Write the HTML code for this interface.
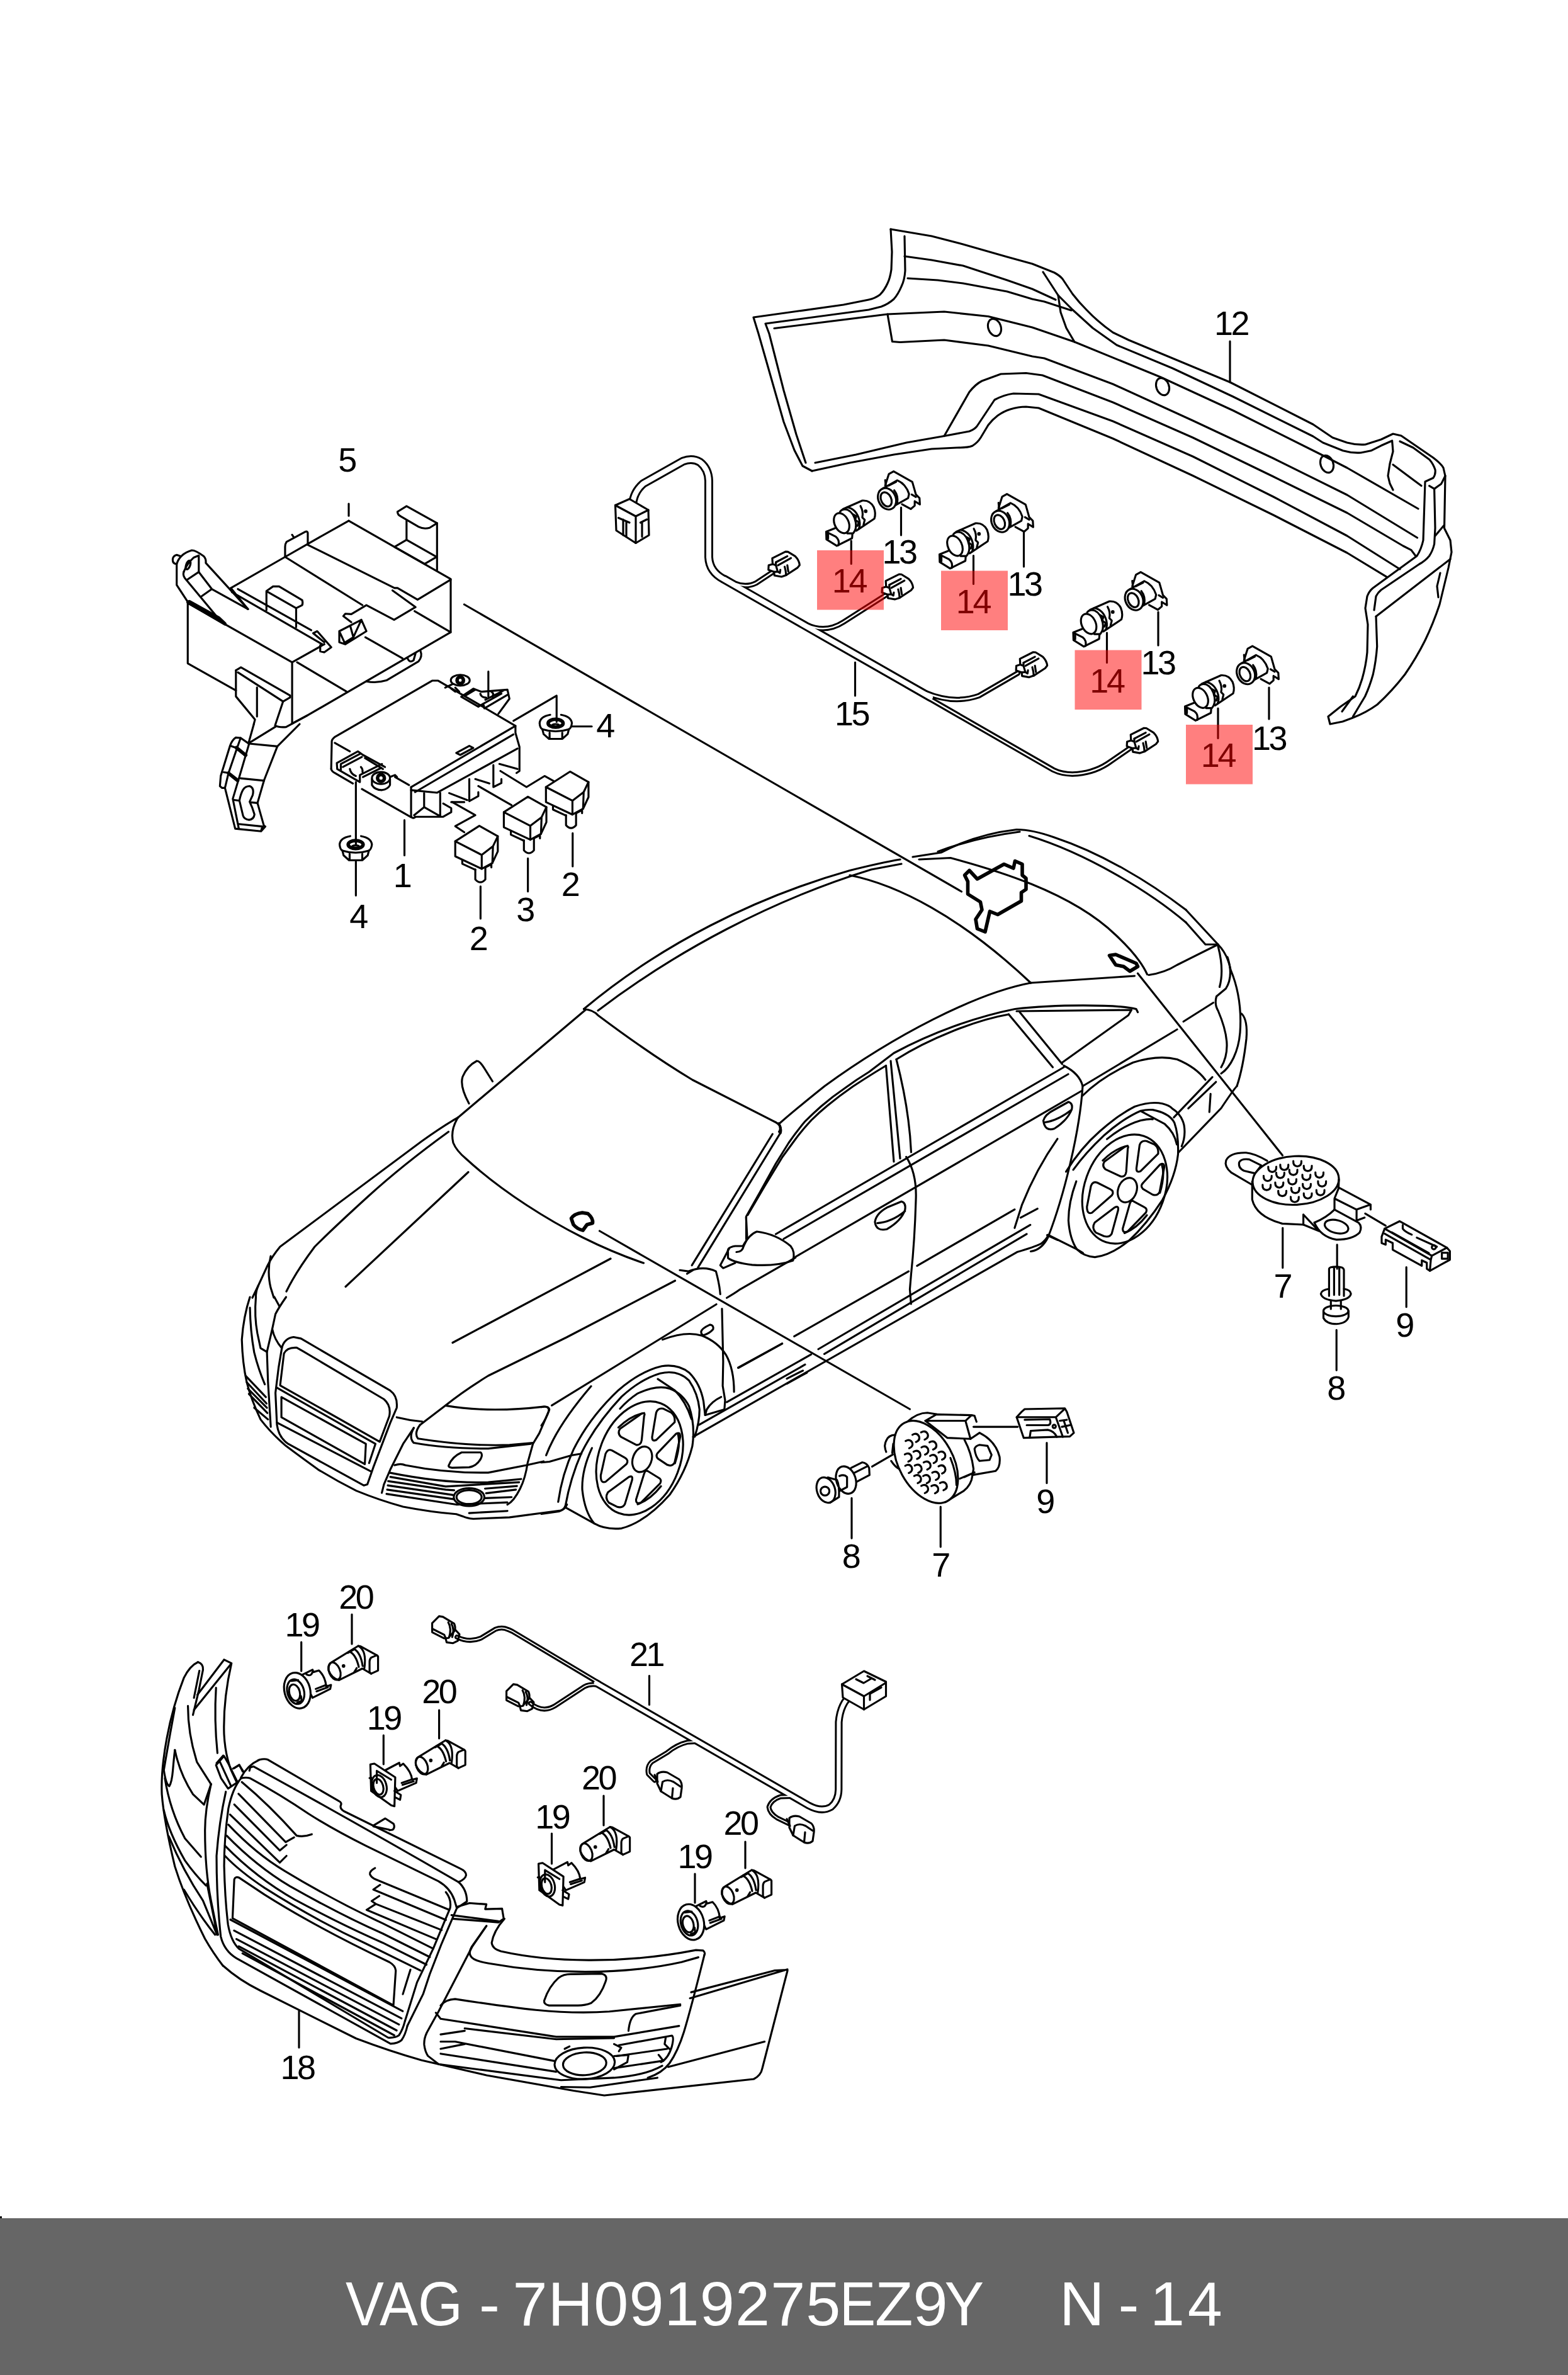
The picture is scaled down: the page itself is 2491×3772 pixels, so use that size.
<!DOCTYPE html>
<html><head><meta charset="utf-8"><title>VAG 7H0919275EZ9Y</title>
<style>
html,body{margin:0;padding:0;background:#fff}
body{width:2491px;height:3772px;overflow:hidden;position:relative}
svg{position:absolute;left:0;top:0;display:block}
.d path,.d line,.d ellipse,.d circle,.d polyline,.d polygon,.d rect{fill:none;stroke:#000;stroke-width:3.15;vector-effect:non-scaling-stroke;stroke-linecap:round;stroke-linejoin:round}
.d .w{fill:#fff}
.d .k{stroke-width:5.6}
.d .dot{fill:#000;stroke:none}
.d .t1{stroke:#000;stroke-width:14}
.d .t2{stroke:#fff;stroke-width:8}
.d .b1{stroke:#000;stroke-width:8.5}
.d .b2{stroke:#fff;stroke-width:2.5}
text{font-family:"Liberation Sans",sans-serif;fill:#000}
.n{font-size:54px;text-anchor:middle;letter-spacing:-3.5px}
.f{font-size:99px;fill:#fff}
</style></head><body>
<svg width="2491" height="3772" viewBox="0 0 2491 3772">
<rect x="0" y="0" width="2491" height="3772" fill="#fff"/>
<g class="d">
<!-- rear bumper 12 -->
<g id="rb">
<path d="M1415,364 L1480,375 L1530,388 L1600,408 L1640,419 L1675,433 Q1684,438 1688,443 L1704,467 Q1714,480 1726,492 Q1745,512 1768,528 L1793,540 L1954,607 L2086,674 L2117,695 L2140,703 Q2155,707 2169,706 L2194,698 L2213,689 L2226,692 L2277,727 Q2290,737 2293,743 L2296,756 L2294.5,839 Q2300,850 2304,858 L2306,877 L2301,902 L2287,960 Q2277,990 2264,1017 Q2250,1045 2232,1071 Q2212,1097 2188,1119 Q2170,1132 2149,1140 L2133,1146 L2113,1150 L2110,1138 L2130,1122 L2153,1106 Q2160,1092 2164,1078 Q2170,1057 2172,1036 L2173,992 L2169,966 L2172,947 Q2175,939 2181,934 L2207,915 L2251,883 Q2258,872 2261,858 L2264,765 L2277,759 Q2281,753 2280,746 Q2277,737 2271,730 L2245,711 L2224,701"/>
<path d="M1415,364 L1417,400 L1416,428 Q1414,442 1410,450 Q1405,461 1398,468 Q1390,474 1380,476 L1340,484 L1197,504 L1205,530 L1225,600 L1245,670 L1262,715 L1275,740 L1290,748"/>
<path d="M1437,375 L1438,430 Q1437,445 1432,455 Q1427,467 1420,475 Q1411,483 1400,487 L1380,492 L1216,514 L1222,530 L1245,620 L1265,690 L1280,735"/>
<!-- g bottom outer -->
<path d="M1290,748 L1350,735 L1420,722 L1480,713 L1520,711 Q1538,711 1545,708 Q1553,703 1558,695 L1570,675 Q1577,666 1585,660 Q1595,653 1605,650 Q1618,646 1630,646 L1650,648 L1768,696.5 L1895,755.5 L2023,818 L2140,878 L2203.6,916.7"/>
<!-- f -->
<path d="M1295,735 L1360,722 L1440,703 L1500,692.5 L1540,685 Q1548,682 1552,677 L1580,635 Q1595,627 1610,625 L1650,626 L1768,669 L1895,725 L2023,789 L2140,851 L2224,904"/>
<!-- e wheel arch -->
<path d="M1500,692.5 L1540,622.5 Q1550,610 1560,605 L1590,594 L1630,592.5 L1656,596 L1768,639 L1895,695 L2023,757 L2140,814.5 L2229,867 L2242,873.6 L2249,883"/>
<!-- d -->
<path d="M1410,499 L1417.5,542.5 L1430,543.5 L1500,540 L1570,549 L1640,566 L1659,569 L1768,610 L1895,668 L2023,728 L2140,786 L2251.5,854"/>
<!-- c -->
<path d="M1230,521.5 L1410,499 L1500,495 L1570,502.5 L1640,520 L1707,543 L1844,599 L1959,652 L2099,722 L2140,743 L2253,808"/>
<!-- b -->
<path d="M1657,432 L1681,469 L1704,492 L1736,521 L1774,548 L1863,585 L1959,630 L2086,693 L2101.6,703 L2133.5,715.8 Q2148,720 2162,719 L2178,715.8 L2194,707.8 L2211.6,700 L2213,717 L2208,736.5 L2205,755.7 L2208,768 L2213,778"/>
<path d="M1437,407 L1480,413 L1530,422 L1600,445 L1640,459 L1677,476"/>
<path d="M1442,442 L1490,445 L1530,450 L1600,463 L1640,475 L1659,479 L1702,493"/>
<path d="M1681,469 L1685,496 L1694,521 L1707,543"/>
<ellipse cx="1580" cy="520" rx="10" ry="14" transform="rotate(-20 1580 520)"/>
<ellipse cx="1847" cy="614" rx="10" ry="14" transform="rotate(-20 1847 614)"/>
<ellipse cx="2108" cy="737" rx="10" ry="14" transform="rotate(-20 2108 737)"/>
<!-- right end inner -->
<path d="M2270.6,771.6 L2278.6,776.4 L2280,838.6 L2278.6,864 Q2276,875 2270.6,883 Q2264,891 2254.7,896 L2194,937 Q2189,941 2186,947 L2183,969"/>
<path d="M2278.6,776.4 L2289.7,768.4 L2296,755.7"/>
<path d="M2280,851 L2294.5,833.8"/>
<path d="M2186,979 L2304,888"/>
<path d="M2186,979 L2187.7,1026.7 Q2186,1050 2181.3,1071 Q2176,1090 2168.6,1106 L2149.4,1138"/>
<path d="M2288,910 L2283,931 L2285,948.6"/>
<path d="M2132,1130 L2149.4,1106"/>
<path d="M2213,738 L2258,771.6"/>
</g>
<!-- sensors 13/14 (defined in zoom-tile coords origin 1280,730 scale 1/5.227) -->
<defs>
<g id="s1314">
<g transform="translate(1280,730) scale(0.19133)">
<!-- sensor 14 -->
<ellipse cx="298" cy="527" rx="58" ry="88" transform="rotate(-25 298 527)"/>
<path d="M285,432 Q305,405 345,415 Q400,440 415,520 Q425,575 395,610"/>
<path d="M310,410 L470,340 Q535,335 565,395 Q585,445 570,490 L420,590"/>
<path d="M345,395 Q420,410 445,500 Q455,545 440,575"/>
<path d="M395,455 L420,470 L410,500 L440,520 L430,550"/>
<path d="M455,385 Q480,430 470,480 L490,500 L480,540"/>
<circle class="dot" cx="498" cy="428" r="15"/>
<path d="M245,568 L170,598 L172,662 L258,715 L385,652 L388,612 L345,612"/>
<path d="M172,600 L250,640 Q282,665 272,710"/>
<path d="M186,612 L186,655"/>
<!-- sensor 13 holder -->
<ellipse cx="675" cy="325" rx="72" ry="92" transform="rotate(-25 675 325)"/>
<ellipse cx="668" cy="330" rx="42" ry="62" transform="rotate(-25 668 330)"/>
<path d="M640,240 L760,172 Q830,200 858,285 L850,320 L745,378"/>
<path d="M735,255 Q770,300 760,360"/>
<path d="M690,215 L750,185"/>
<path d="M660,215 L690,120 L730,97 L885,185 L915,290 L945,320 L948,372 L905,345 L905,382 L872,410 L800,370"/>
<path d="M660,170 L665,215"/>
<path d="M880,290 L915,310"/>
</g>
</g>
<g id="plug">
<g transform="translate(1560,1000) scale(0.19133)">
<path class="w" d="M315,242 L425,187 L445,188 L505,225 Q538,258 542,298 L525,320 L430,382 L392,395 L333,385 L330,355 L283,338 L285,300 L318,290 Z"/>
<path d="M345,275 L440,225 M362,300 L470,240"/>
<path d="M318,290 L345,300 L360,352 L378,364 L382,338 M345,300 L345,275"/>
<path d="M418,312 Q428,345 430,382 M440,300 L448,352 M330,355 L360,353"/>
</g>
</g>
</defs>
<use href="#s1314"/>
<use href="#s1314" transform="translate(180,36)"/>
<use href="#s1314" transform="translate(392.5,160)"/>
<use href="#s1314" transform="translate(570,277.5)"/>
<!-- leaders -->
<path d="M1431.5,806 V850 M1626.5,845 V900 M1840,972 V1025 M2016,1092 V1142"/>
<path d="M1352.3,859 V895.5 M1546.5,882.5 V927.5 M1758.5,1005 V1052.5 M1935,1125 V1172.5"/>
<path d="M1954,542 V607"/>
<!-- harness 15 -->
<g style="stroke-linecap:butt">
<path class="b1" d="M1152,917.5 L1168,926.6 Q1185,934 1201.6,925.8 L1236,903"/>
<path class="b1" d="M1255,977.2 L1281.6,992.3 Q1312,1006 1340,988 L1409,944"/>
<path class="b1" d="M1440,1083 L1470,1100 Q1515,1119 1555,1105 L1617,1069"/>
<path class="b1" d="M1440,1088.5 L1673.4,1222.8 Q1690,1231 1712,1229 Q1742,1226 1765,1209 L1797,1187"/>
<path class="t1" d="M1005,802 Q1006,782 1022,768 L1085,732.5 Q1100,727 1112,734 Q1126,745 1126,765 L1126,885 Q1127,908 1150,920 L1478,1107.4"/>
<path class="t2" d="M1005,802 Q1006,782 1022,768 L1085,732.5 Q1100,727 1112,734 Q1126,745 1126,765 L1126,885 Q1127,908 1150,920 L1478,1107.4"/>
<path class="b2" d="M1152,917.5 L1168,926.6 Q1185,934 1201.6,925.8 L1236,903"/>
<path class="b2" d="M1255,977.2 L1281.6,992.3 Q1312,1006 1340,988 L1409,944"/>
<path class="b2" d="M1440,1083 L1470,1100 Q1515,1119 1555,1105 L1617,1069"/>
<path class="b2" d="M1440,1088.5 L1673.4,1222.8 Q1690,1231 1712,1229 Q1742,1226 1765,1209 L1797,1187"/>
</g>
<use href="#plug"/>
<use href="#plug" transform="translate(-393.4,-159.6)"/>
<use href="#plug" transform="translate(-213.1,-123.7)"/>
<use href="#plug" transform="translate(176,120.5)"/>
<!-- connector block -->
<path class="w" d="M977.5,802.5 L1000,792.5 L1030,810 L1031,850 L1010,862.5 L979,842.5 Z"/>
<path d="M977.5,802.5 L1010,820 L1030,810 M1010,820 V862.5"/>
<path d="M982.5,822.5 L1000,830 M990,825 V850 M995,828.5 V852.5 M1017.5,830 L1027.5,825 M1020,830 V852.5"/>
<path d="M1358.5,1052 V1105"/>
<!-- long diagonal leader from bracket to car -->
<path d="M737.5,960 L1527.5,1416"/>
<!-- bracket 5 : tile origin (260,800) scale 1/3.136 -->
<g transform="translate(260,800) scale(0.31888)">
<path d="M922,0 V60"/>
<path d="M922,85 L1430,375 L1430,640 L715,1055 L640,1095"/>
<path d="M922,85 L718,200 L718,145 Q715,135 705,140 L650,170 L640,155 M650,170 L612,190 Q605,200 605,215 L605,265 L718,200"/>
<path d="M605,265 L335,420"/>
<path d="M718,205 L1150,420 L1165,420 L1265,478 L1430,378"/>
<path d="M1140,432 L1255,515 L1148,578 L1010,505 L935,550 L905,548 L895,560 L935,590"/>
<path d="M1250,535 L1430,640"/>
<path d="M605,265 L990,505"/>
<!-- right tab -->
<path d="M1165,40 L1210,12 L1362,97 L1362,330"/>
<path d="M1165,40 Q1165,55 1180,62 L1270,115 Q1295,128 1325,120 L1362,97"/>
<path d="M1210,85 L1210,180 L1150,215 L1300,300 L1355,268"/>
<path d="M1210,180 L1355,262"/>
<!-- clip -->
<path d="M875,635 L985,578 L1010,635 L905,700 L875,690 Z M875,635 L905,700 M930,610 L945,665 L985,578 M945,665 L905,690"/>
<path d="M1005,665 L1190,770"/>
<!-- left box -->
<path d="M120,495 L640,790 L640,1095 M120,495 L120,795 L360,930 M640,790 L800,700 M665,790 L910,935"/>
<path d="M335,420 L420,525 M370,425 L735,630 M340,440 L790,700"/>
<path d="M512,435 L545,412 L575,412 L690,480 Q695,495 690,505 L660,520 L660,615 M512,435 L512,530 M520,440 L660,520"/>
<path d="M745,645 L765,635 L835,715 L800,740 L780,735 L780,705 L800,700 M745,645 L800,690"/>
<!-- arm top-left -->
<path d="M65,300 Q45,300 45,280 Q45,260 65,255 L85,262"/>
<path d="M65,300 Q80,250 140,232 Q160,232 200,262 Q212,275 210,295 L420,525"/>
<path d="M65,300 L65,405 L122,492"/>
<path class="k" d="M122,490 L305,598 L275,570 L128,488"/>
<path d="M100,340 Q95,355 105,370 L275,575"/>
<path d="M100,340 Q115,300 150,268 L175,258 L175,340 L118,378"/>
<path d="M175,340 L240,425 L190,460 M240,425 L420,525"/>
<ellipse cx="122" cy="305" rx="10" ry="23" transform="rotate(20 122 305)"/>
<!-- lower hanging tab -->
<path d="M360,830 L385,815 L630,955 L630,965 L595,985 L555,1105 Q575,1115 610,1112 L715,1055"/>
<path d="M360,830 L360,960 L455,1075 L449,1098 M370,840 L595,985 M465,915 L465,1060"/>
<!-- clip under tray -->
<path d="M1010,885 Q1060,895 1110,880 L1270,785 Q1290,760 1280,735 M1215,770 Q1225,795 1245,780 L1255,745"/>
</g>
<!-- foot : tile origin (300,1150) scale 1/5.227 -->
<g transform="translate(300,1150) scale(0.19133)">
<path d="M540,0 L495,160 L720,22 M735,185 L920,0 M500,162 L735,185"/>
<path d="M495,160 L430,115 L390,112 Q360,130 342,180 L265,430 L258,515 L275,530 L300,530"/>
<path d="M430,115 L400,200 L330,405 L300,530 M345,180 L400,200 L470,265 M290,400 L330,405 L410,470"/>
<path class="k" d="M395,196 L472,258 M330,408 L405,468"/>
<path d="M500,165 L410,470 L365,620 L415,868 M735,185 L625,465 L570,655 L625,850"/>
<path d="M430,450 L625,470 M375,630 L415,635 M520,650 L570,655"/>
<path d="M505,515 Q470,515 450,545 Q430,580 420,635 L450,760 Q460,790 500,795 Q540,790 545,750 L525,690 L505,645 L530,590 Q545,530 505,515 Z"/>
<path d="M300,530 L385,868 L415,870 M385,868 L600,890 L635,850 L625,845 M415,830 L610,850 L600,888"/>
</g>
<!-- control unit 1 etc : tile origin (500,1030) scale 1/3.136 -->
<defs>
<g id="nut">
<g transform="translate(300,1150) scale(0.19133)">
<path d="M1340,930 Q1255,945 1252,1000 Q1255,1040 1275,1050 Q1385,1085 1495,1050 Q1515,1040 1520,1000 Q1515,945 1430,930"/>
<path d="M1275,1050 L1285,1090 L1330,1130 L1440,1130 L1485,1090 L1495,1050 M1335,1078 V1130 M1440,1078 V1130"/>
<ellipse class="k" cx="1385" cy="1000" rx="62" ry="33"/>
<ellipse cx="1385" cy="1018" rx="28" ry="11"/>
</g>
</g>
<g id="relay">
<g transform="translate(500,1030) scale(0.31888)">
<path class="w" d="M700,960 L820,883 L912,935 L912,1010 L885,1068 L832,1097 L700,1035 Z"/>
<path d="M700,960 L832,1028 L888,985 L912,935 M832,1028 V1097 M888,985 L885,1068"/>
<path d="M735,1052 V1072 L800,1102 M850,1090 L880,1075 V1090"/>
<path d="M800,1100 V1150 Q825,1178 850,1150 V1092"/>
</g>
</g>
</defs>
<g transform="translate(500,1030) scale(0.31888)">
<path d="M82,600 L85,460 Q90,445 110,435 L585,160 L615,160 L1000,385 L480,690"/>
<path d="M100,470 L175,512 M400,640 L470,680"/>
<path d="M82,600 Q85,612 100,620 L190,672 M235,700 L480,840"/>
<path d="M1000,385 L1000,420 L1020,490 L1020,610 L1005,620"/>
<path d="M990,428 L500,715"/>
<path d="M480,690 L480,835 Q485,850 500,840"/>
<path d="M480,705 L610,718 L1010,498"/>
<path d="M545,720 L545,790 L495,830 M545,790 L625,835 M625,718 V835 M500,838 L640,838 L680,815 L680,795 L640,772"/>
<path d="M770,650 V760 L815,735 V715 M890,580 V690 L930,670 V650"/>
<path d="M670,720 L760,755 M680,765 L745,765 M800,650 L870,672 M920,575 L1010,600"/>
<path d="M815,685 L980,780"/>
<path d="M925,610 L1055,690 L1145,635 L1190,660"/>
<path d="M685,765 L800,830 L700,885 L745,915"/>
<path d="M705,520 L770,485 L790,495 L725,530 Z"/>
<!-- left ear with screw -->
<path d="M110,570 L215,512 L240,530 L350,590 M110,570 L112,600 L225,665 L225,630 L335,575 M130,575 L225,525 M130,575 V605 M240,640 L330,595"/>
<path d="M140,590 L235,540 M250,545 L340,600"/>
<path d="M175,600 Q180,625 205,635 M230,590 Q240,600 238,615"/>
<ellipse cx="330" cy="645" rx="45" ry="30"/>
<circle class="k" cx="330" cy="645" r="17"/>
<path d="M285,650 V680 Q300,705 335,705 Q365,700 375,680 V650 M375,640 L400,630 L410,640"/>
<!-- top ear with screw -->
<ellipse cx="725" cy="158" rx="47" ry="27"/>
<circle class="k" cx="725" cy="158" r="16"/>
<path d="M650,195 L685,178 M680,200 L700,215 M700,195 L720,215"/>
<path d="M730,240 L790,200 L830,215 L960,205 L970,250 L915,325 M730,240 L815,290 L840,275 L930,225 M840,275 L845,298 L965,228 M750,235 L800,205 M850,255 L940,210"/>
<path d="M825,225 Q830,245 855,245 M880,215 Q895,225 885,240"/>
<path d="M865,115 V240"/>
<!-- leaders for nuts -->
<path d="M990,360 L1205,235 V365"/>
<path d="M1280,388 H1380"/>
<path d="M205,665 V975 M205,1060 V1230"/>
<path d="M447,855 V1030 M826,1185 V1345 M1062,1045 V1210 M1285,920 V1085"/>
</g>
<use href="#relay"/>
<use href="#relay" transform="translate(77.2,-46.2)"/>
<use href="#relay" transform="translate(144.1,-86.1)"/>
<use href="#nut"/>
<use href="#nut" transform="translate(317.7,-192.7)"/>
<defs><g id="wheelQ">
<ellipse cx="612" cy="1003" rx="253" ry="366" transform="rotate(21 612 1003)"/>
<path d="M480,812 Q560,735 640,722 M850,850 Q870,920 832,1035 M745,1178 Q680,1260 600,1290"/>
<!-- spokes -->
<path d="M640,740 Q650,718 625,725 L490,820 Q472,848 495,870 L590,920 Q620,925 625,890 Z"/>
<path d="M715,720 Q725,688 760,695 L810,720 Q835,740 830,780 L715,890 Q688,902 690,870 Z"/>
<path d="M840,850 Q867,838 865,870 L830,1030 Q815,1057 785,1045 L725,1005 Q708,985 730,965 Z"/>
<path d="M665,1085 Q648,1073 640,1100 L590,1260 Q588,1292 620,1280 L740,1160 Q752,1135 730,1125 Z"/>
<path d="M545,1120 Q572,1108 565,1140 L520,1290 Q505,1317 470,1305 L420,1280 Q393,1250 415,1215 Z"/>
<path d="M440,955 Q413,943 400,975 L370,1110 Q368,1162 400,1150 L530,1040 Q547,1015 520,1000 Z"/>
<ellipse cx="628" cy="1010" rx="58" ry="82" transform="rotate(21 628 1010)"/>
</g></defs>
<!-- CAR front end : tile R origin (370,2060) scale 1/2.958 -->
<g transform="translate(370,2060) scale(0.33801)">
<path d="M80,0 Q50,90 42,200 Q45,310 65,400 Q85,480 130,575 Q180,640 250,700 Q330,760 400,810 Q490,865 580,910 Q690,955 800,985 Q930,1010 1050,1020 L1080,1030 Q1100,1040 1130,1042 L1300,1035 L1540,1003 Q1560,998 1570,975"/>
<path d="M108,0 Q100,90 115,170 L130,240 L160,258"/>
<path d="M80,50 Q82,160 100,260 Q120,340 150,410"/>
<path d="M250,0 Q215,50 200,80 L185,150 L160,258 L165,400 L178,610"/>
<path d="M195,0 L218,42"/>
<path d="M185,150 Q195,200 230,240"/>
<path d="M60,370 L155,470 M65,400 L158,500 M70,430 L160,520 M75,455 L162,545 M100,520 L165,575"/>
<path d="M230,240 Q240,195 285,188 L320,195 L740,440 Q775,465 770,520 L740,590 L660,800 L632,880 L615,885 L260,690 Q215,660 207,600 L200,450 L215,330 Z"/>
<path d="M240,265 Q255,235 300,238 L330,255 L710,480 Q745,510 735,560 L690,680 L222,415 Z"/>
<path d="M205,425 L670,690 L640,780 M207,590 L650,820"/>
<path d="M228,470 L625,690 L620,785 L228,565 Z"/>
<path d="M770,565 Q830,580 890,585"/>
<path d="M1000,510 Q1200,545 1460,515 Q1487,513 1485,535 L1440,640 L1410,690 L1385,780 Q1375,850 1350,900 Q1320,960 1290,975"/>
<path d="M880,600 Q850,640 870,665 Q1100,702 1300,695 L1410,685"/>
<path d="M850,615 Q825,660 850,685 Q1000,712 1200,712 L1400,690"/>
<path d="M850,615 L800,690 L740,810 L710,880 L700,920"/>
<path d="M760,790 Q790,780 810,790 Q1000,828 1200,825 L1380,790 L1460,772"/>
<path d="M1015,790 Q1030,750 1075,730 L1165,730 Q1175,740 1165,760 Q1145,795 1110,800 L1030,802 Q1010,800 1015,790 Z"/>
<path d="M735,825 Q1000,878 1200,870 L1355,855"/>
<path d="M740,845 L1000,890 L1345,870 M730,865 L1000,905 L1040,908 M1185,900 L1335,888 M728,885 L1035,930 M1190,922 L1330,905 M725,905 L1040,950 M1185,945 L1310,940 M722,925 L1050,975 L1290,965"/>
<ellipse cx="1110" cy="940" rx="72" ry="42"/>
<ellipse cx="1110" cy="940" rx="59" ry="33"/>
<path d="M1110,1015 L1290,1005"/>
</g>
<!-- front wheel : tile Q origin (860,2060) scale 1/3.92 -->
<g transform="translate(860,2060) scale(0.2551)">
<use href="#wheelQ"/>
<path d="M315,940 Q250,1080 255,1200 Q270,1340 330,1410 Q400,1450 500,1440 Q650,1400 800,1230 Q900,1090 940,930 Q960,800 920,680 Q880,600 800,570 Q720,545 600,600 Q540,640 490,695"/>
<path d="M105,1275 Q130,1100 200,950 Q300,750 480,580 Q620,460 750,430 Q850,415 920,470 Q990,540 1010,650 L1020,735"/>
<path d="M150,1300 Q180,1130 250,970 Q340,790 500,620 Q620,510 740,475 Q850,450 920,520 Q975,600 985,700 Q985,780 955,870"/>
<path d="M725,510 L830,580 Q900,650 935,760"/>
<path d="M0,1350 L110,1335 Q140,1325 150,1300 M150,1310 L330,1410"/>
<path d="M0,1030 L50,1025 L190,985 L250,975"/>
<path d="M30,985 Q100,800 310,555"/>
<path d="M65,675 L1090,45"/>
<path d="M755,265 Q900,210 1000,240 Q1100,280 1150,360 Q1200,450 1200,590"/>
<path d="M995,215 Q1000,195 1050,172 Q1075,175 1070,200 Q1050,225 1010,238 Q995,235 995,215 Z"/>
<path d="M1020,735 L1140,700 M1020,735 L1030,700 Q1060,650 1120,622"/>
<path d="M1225,440 L1500,290"/>
<path d="M0,685 Q45,675 50,700 Q30,760 0,800"/>
</g>
<!-- hood etc : tile D origin (360,1700) scale .5 -->
<g transform="translate(360,1700) scale(0.5)">
<path d="M735,150 Q690,175 620,225 L170,560 Q145,590 130,620 L100,685 L82,722"/>
<path d="M100,685 Q92,705 93,722"/>
<path d="M705,195 Q560,300 450,400 Q340,500 280,560 Q220,640 190,702"/>
<path d="M140,590 Q128,640 140,690 L150,722"/>
<path d="M768,323 L378,687"/>
<path d="M1220,598 L718,865"/>
</g>
<path d="M1072.5,2034 L900,2124 L775.6,2185 Q735,2210 708,2232 L667.4,2263"/>
<!-- windshield etc : tile H origin (600,1300) scale .5 -->
<g transform="translate(600,1300) scale(0.5)">
<path d="M255,950 L660,608"/>
<path d="M655,605 Q685,608 700,625 C800,700 900,770 1000,830 L1265,965 Q1287,977 1280,1000"/>
<path d="M255,950 Q230,990 240,1030 Q250,1055 280,1080 C400,1190 550,1280 650,1330 Q750,1380 845,1412"/>
<path class="k" d="M615,1270 Q625,1255 650,1252 L668,1255 Q685,1270 683,1285 L665,1290 L652,1308 Q635,1305 622,1290 Z"/>
<path d="M290,905 Q260,850 270,820 Q285,785 315,770 Q325,770 340,795 L365,835"/>
</g>
<!-- leader hood marker -> buzzer -->
<path d="M952.5,1955 L1445.4,2238"/>
<!-- roof/windows : tile E origin (1100,1300) scale .5 -->
<g transform="translate(1100,1300) scale(0.5)">
<path d="M500,180 C650,210 850,310 1075,522"/>
<path d="M700,122 L790,108 Q900,50 1030,35 Q1080,35 1150,60 C1300,110 1450,200 1568,290"/>
<path d="M1070,55 C1250,110 1450,230 1568,330"/>
<path d="M720,130 L820,125 C950,160 1200,230 1345,370 Q1420,440 1445,495"/>
<path d="M780,105 Q900,60 1040,42"/>
<path class="k" d="M865,180 L880,165 L905,192 L990,145 L1020,158 L1025,135 L1048,145 L1048,180 L1060,190 L1060,225 L1045,235 L1045,262 L970,305 L945,295 L930,360 L905,350 L900,320 L920,290 L915,265 L875,240 L875,200 Z"/>
<path class="k" d="M1325,435 L1345,432 L1410,460 L1415,470 L1390,485 L1370,470 L1345,465 Z"/>
<path d="M1075,522 L1405,500"/>
<path d="M1075,522 C900,555 640,690 420,850 Q320,930 275,970 Q285,980 275,995"/>
<path d="M1415,615 L1410,605 C1350,590 1150,590 1025,605 C900,630 760,680 640,745 L561,805 Q520,830 485,856 Q445,883 408,915 Q380,940 357,963 Q330,995 306,1030 L265,1096 L214,1188 L171,1264 L171,1336"/>
<path d="M1005,622 C900,640 750,700 648,765 M615,785 L582,805 Q545,828 510,851 Q468,880 429,912 Q402,934 378,958 Q350,988 327,1019 L286,1075 L230,1167 L176,1259"/>
<path d="M615,785 L640,1090 M630,770 L660,1080 M648,765 C670,850 690,950 695,1060"/>
<path d="M1005,622 L1145,790 M1040,615 L1175,780"/>
<path d="M1030,612 L1395,608 L1385,625 L1175,775"/>
<path d="M1180,785 Q1230,810 1240,850 C1230,1000 1180,1200 1130,1330 Q1110,1370 1075,1375"/>
<path d="M1115,960 Q1120,940 1150,925 L1195,900 Q1210,905 1205,925 Q1190,960 1150,985 Q1120,995 1115,960 Z M1120,965 Q1160,960 1205,925"/>
</g>
<!-- belt lines / crease (src coords) -->
<path d="M1232.5,1960 L1690,1695"/>
<path d="M1245,1967.5 L1697,1706"/>
<path d="M1264,1996 L1717.5,1733"/>
<path d="M927.5,1602.5 C1050,1500 1200,1425 1350,1382.5 Q1400,1370 1430,1365"/>
<path d="M950,1605 C1075,1510 1225,1430 1384,1381 L1432,1372"/>
<!-- side : tile G origin (1080,1780) scale 1/2.6133 -->
<g transform="translate(1080,1780) scale(0.38265)">
<path class="w" d="M200,545 Q195,525 230,520 L262,520 Q290,470 320,460 Q400,470 460,520 Q480,545 470,580 Q400,605 300,598 Q230,590 200,570 Z"/>
<path d="M235,545 Q260,545 265,520 M205,530 L168,600 L180,612 L230,590"/>
<path d="M385,55 L50,600 M410,10 Q420,30 415,55 L75,610"/>
<path d="M275,400 L280,490 L265,520"/>
<path d="M0,620 L35,625 Q100,600 150,625 Q165,680 168,720 M30,635 L55,620"/>
<path d="M175,780 L180,1000 L178,1100 L188,1160 L185,1200"/>
<path d="M195,735 Q230,715 250,700 L480,568"/>
<path d="M245,1025 L425,925 M475,895 L950,625 M985,602 L1390,368 M1415,402 L1485,365"/>
<path d="M195,1168 L545,970 M575,948 L1455,432"/>
<path d="M80,1262 L520,1012 M600,968 L1440,470"/>
<path d="M55,1312 L1400,545 Q1470,525 1500,510 Q1520,495 1530,475"/>
<path d="M940,150 Q985,220 980,330 Q975,500 960,640 L955,700 L960,760"/>
<path d="M810,420 Q815,385 860,360 L920,335 Q940,340 935,370 Q920,415 860,450 Q815,460 810,420 Z M820,425 Q880,420 935,375"/>
<path d="M1568,75 Q1480,200 1420,350 L1390,445"/>
<path d="M1525,475 L1568,495"/>
</g>
<!-- rear : tile I origin (1500,1280) scale .5 -->
<g transform="translate(1500,1280) scale(0.5)">
<path d="M768,330 L870,440 Q900,470 910,520 C935,580 945,650 940,720 C935,780 910,830 880,850"/>
<path d="M768,370 L830,440 L870,440"/>
<path d="M870,445 Q890,520 875,575"/>
<path d="M900,480 Q920,540 895,580 L865,605 Q858,630 870,650 C900,720 910,780 880,830"/>
<path d="M945,660 Q965,680 960,740 Q950,830 930,890"/>
<path d="M855,625 L760,685"/>
<path d="M650,537 Q700,530 740,505 L870,440"/>
<path d="M615,532 L1075,1110"/>
<path d="M440,890 L740,710"/>
<path d="M440,920 Q500,860 600,815 Q680,790 740,805 Q800,830 830,870"/>
<path d="M745,1100 L880,960 Q920,900 930,890"/>
</g>
<!-- rear wheel : tile W origin (1640,1680) scale 1/5.227 -->
<g transform="translate(1640,1680) scale(0.19133)">
<path d="M365,1025 Q300,1200 300,1350 Q310,1500 370,1590 Q430,1650 520,1655 Q650,1640 800,1520 Q950,1380 1080,1180 Q1190,980 1210,800 Q1215,640 1180,540 Q1140,460 1000,432 Q950,428 900,440 Q760,500 600,640 Q440,790 340,930"/>
<path d="M620,675 Q760,560 900,520 Q970,505 1000,510"/>
<path d="M905,445 L1100,550 Q1180,620 1200,720"/>
<path d="M280,945 Q400,750 560,610 Q720,470 850,405 Q980,360 1080,380 Q1140,395 1160,420 Q1240,470 1260,560 Q1275,650 1240,735"/>
<path d="M1175,495 L1495,160 M1295,420 L1525,200 M1480,300 L1470,450"/>
<path d="M130,1470 L370,1590 L420,1620"/>
</g>
<use href="#wheelQ" transform="translate(1786.9,1888.5) scale(0.2551) scale(0.99,0.955) rotate(-2) translate(-612,-1003)"/>
<!-- buzzer right : tile J origin (1900,1760) scale 1/3.136 -->
<defs>
<path id="cu" d="M-20,-8 Q-22,16 0,18 Q22,16 20,-8"/>
</defs>
<g transform="translate(1900,1760) scale(0.31888)">
<!-- left ear -->
<path d="M285,385 L175,320 Q140,290 150,260 Q170,220 250,222 Q290,225 355,262"/>
<path d="M215,270 Q225,250 265,255 L325,285 L295,325 L240,312 Q210,300 215,270 Z"/>
<ellipse class="w" cx="497" cy="360" rx="215" ry="121" transform="rotate(-3 497 360)"/>
<path d="M280,365 L280,455 Q300,540 430,575 L535,580"/>
<path d="M712,355 L710,400 M690,505 Q650,545 590,570"/>
<path d="M535,530 L535,580 L612,612 Z"/>
<path d="M590,570 Q620,640 700,655 Q780,655 815,620 Q830,590 810,570 L690,505"/>
<ellipse cx="700" cy="590" rx="60" ry="32" transform="rotate(14 700 590)"/>
<path d="M710,395 L870,480 L870,505 M690,450 L690,505 M690,450 L800,505 L800,560 M800,505 L870,480 M800,560 L840,545 M710,400 L690,450"/>
<path d="M843,525 L945,585"/>
<g>
<use href="#cu" x="380" y="300"/><use href="#cu" x="440" y="290"/><use href="#cu" x="505" y="272"/><use href="#cu" x="557" y="295"/>
<use href="#cu" x="357" y="345"/><use href="#cu" x="420" y="330"/><use href="#cu" x="485" y="315"/><use href="#cu" x="550" y="340"/><use href="#cu" x="615" y="328"/>
<use href="#cu" x="352" y="390"/><use href="#cu" x="415" y="378"/><use href="#cu" x="480" y="362"/><use href="#cu" x="552" y="385"/><use href="#cu" x="628" y="372"/>
<use href="#cu" x="430" y="420"/><use href="#cu" x="495" y="405"/><use href="#cu" x="557" y="432"/><use href="#cu" x="620" y="416"/>
<use href="#cu" x="492" y="450"/>
</g>
<path d="M432,597 V795 M703,680 V800 M700,1105 V1305 M1048,792 V990"/>
<!-- screw 8 -->
<path d="M663,800 Q665,790 700,790 Q735,790 737,805 L737,935 M663,800 L663,935 M688,797 V930 M714,797 V930"/>
<path d="M663,900 Q625,905 622,925 Q630,955 697,960 Q765,955 772,925 Q770,905 737,900"/>
<path d="M672,962 V1000 M722,962 V1000"/>
<ellipse cx="697" cy="1010" rx="62" ry="27"/>
<path d="M635,1010 V1045 Q650,1075 700,1075 Q750,1072 760,1040 V1010"/>
<!-- clip 9 -->
<path d="M940,600 L1015,563 L1250,695 L1265,712 L1265,755 L1165,810 L1150,800 L1150,770 L1125,758 L1125,785 L980,705 L980,672 L945,655 L945,680 L925,672 L925,640 Z"/>
<path d="M940,600 L1175,735 L1250,695 M940,625 L1170,755 L1165,810 M1175,735 L1170,755 M975,618 L1160,722"/>
<path d="M1030,582 L1030,600 Q1040,615 1075,630 M1100,645 L1200,690"/>
<circle cx="1185" cy="693" r="10"/>
<path d="M1225,720 L1255,720 L1255,750 L1225,750 Z"/>
</g>
<!-- buzzer bottom : tile K origin (1250,2180) scale 1/3.136 -->
<g transform="translate(1250,2180) scale(0.31888)">
<path d="M0,30 L80,-10 M0,55 L100,0"/>
<path d="M600,245 Q650,200 700,200 L745,207"/>
<path d="M790,645 L880,590 Q920,560 925,510 L930,480 Q920,400 885,335"/>
<ellipse class="w" cx="693" cy="445" rx="222" ry="135" transform="rotate(61 693 445)"/>
<path d="M815,425 Q845,500 845,560"/>
<path class="w" d="M690,240 L745,208 L920,212 L890,240 L915,330 L800,325 Z"/>
<path d="M690,240 L890,240 M920,212 L935,215 L945,245 M915,330 L960,300"/>
<path d="M960,300 Q1040,340 1060,420 Q1065,470 1040,490 L925,510"/>
<path d="M935,380 Q940,365 960,360 L1000,365 L1020,410 L1010,435 L960,440 Q940,420 935,380 Z"/>
<path d="M862,528 L935,497 L885,520"/>
<path d="M540,310 Q495,310 488,365 Q490,385 495,395 M530,355 L525,400 M520,440 Q540,470 560,480"/>
<path d="M425,468 L528,408"/>
<g transform="translate(693,445) rotate(244) translate(-497,-365)">
<use href="#cu" x="380" y="300"/><use href="#cu" x="440" y="290"/><use href="#cu" x="505" y="272"/><use href="#cu" x="557" y="295"/>
<use href="#cu" x="357" y="345"/><use href="#cu" x="420" y="330"/><use href="#cu" x="485" y="315"/><use href="#cu" x="550" y="340"/><use href="#cu" x="615" y="328"/>
<use href="#cu" x="352" y="390"/><use href="#cu" x="415" y="378"/><use href="#cu" x="480" y="362"/><use href="#cu" x="552" y="385"/><use href="#cu" x="628" y="372"/>
<use href="#cu" x="430" y="420"/><use href="#cu" x="495" y="405"/><use href="#cu" x="557" y="432"/><use href="#cu" x="620" y="416"/>
<use href="#cu" x="492" y="450"/>
</g>
<!-- screw 8 -->
<path d="M320,475 L375,447 Q400,450 410,475 L412,510 L345,545 M335,500 L400,467"/>
<ellipse class="w" cx="295" cy="535" rx="48" ry="70" transform="rotate(-18 295 535)"/>
<path d="M262,515 Q285,505 300,520 L300,570 L262,590"/>
<ellipse class="w" cx="195" cy="585" rx="45" ry="65" transform="rotate(-18 195 585)"/>
<path d="M205,522 L250,535 Q262,560 260,620 L215,648"/>
<circle cx="190" cy="590" r="22"/>
<path d="M323,625 V825 M766,668 V868 M1295,350 V550 M930,270 H1150"/>
<!-- clip 9 -->
<path d="M1145,222 L1170,195 L1185,182 L1385,178 L1395,195 L1430,300 L1410,318 L1180,325 Z"/>
<path d="M1145,222 L1340,222 L1385,180 M1340,222 L1375,320"/>
<path d="M1185,235 L1310,232 Q1320,260 1300,262 L1195,262 M1215,290 L1300,285 Q1330,290 1345,320 M1215,290 L1210,322"/>
<path d="M1360,240 L1395,235 M1370,270 L1410,262 M1380,240 L1400,300"/>
<circle cx="1332" cy="268" r="8"/>
</g>
<!-- front bumper 18: left horn : tile U origin (230,2620) scale 1/3.136 -->
<g transform="translate(230,2620) scale(0.31888)">
<path d="M265,62 Q225,80 195,140 Q140,280 110,440 Q80,600 85,720 Q95,850 150,1080 Q200,1240 300,1440 Q340,1510 390,1575"/>
<path d="M265,62 Q292,70 290,100 L270,200 L240,325 M272,105 L245,240"/>
<path d="M395,50 L432,68 L245,300 M395,50 L262,225 M432,68 Q390,250 395,420 Q400,520 430,600 L460,665"/>
<path d="M355,190 Q345,350 362,515"/>
<path d="M150,290 Q120,450 95,600 Q105,670 122,680 Q135,660 140,600 Q145,540 150,500"/>
<path d="M215,280 Q215,420 260,560 L330,670"/>
<path d="M150,500 Q175,620 240,720 L295,772 L330,670"/>
<path d="M100,640 Q125,800 200,940 L280,1032"/>
<path d="M95,800 Q120,910 200,1050 Q250,1120 305,1175"/>
<path d="M120,930 Q190,1100 290,1250 L360,1420 L345,1340 L310,1165"/>
<path d="M195,1195 Q270,1320 350,1420"/>
<path d="M330,670 Q300,800 300,900 Q300,1100 330,1250 Q350,1350 365,1420"/>
<path d="M355,575 L395,530 L415,565 L462,660 L415,692 L380,640 Z M375,560 L430,680 M440,592 L470,575 L490,605"/>
</g>
<!-- grille : tile V origin (340,2760) scale 1/3.733 -->
<g transform="translate(340,2760) scale(0.26786)">
<path d="M70,320 Q30,500 15,700 Q15,950 40,1178 Q60,1262 133,1307 L1047,1814 Q1090,1812 1112,1793 Q1135,1760 1147,1707"/>
<path d="M160,240 Q110,300 85,420 Q60,600 60,760 Q65,960 83,1107 Q100,1205 147,1250 L1033,1778 Q1075,1780 1097,1764 Q1120,1730 1133,1678"/>
<path d="M160,235 Q200,160 270,130 Q300,122 320,130 L740,375 Q760,385 752,400 Q745,420 770,435 L1460,775 Q1495,790 1495,815 Q1490,840 1450,855 Q1500,900 1500,970 L1440,1010"/>
<path d="M945,520 L1015,478 L1065,510 Q1075,530 1060,545 L1040,548 M945,525 L1040,545"/>
<path d="M210,195 L215,175 L235,170 Q800,480 1450,855"/>
<path d="M160,240 Q190,232 215,240 Q400,340 560,450 Q700,540 900,640 L1330,850 Q1400,890 1425,960 L1440,1010"/>
<path d="M1375,915 Q1410,960 1400,1010 L1300,1250 L1204,1450 L1133,1678"/>
<path d="M1440,1010 L1350,1220 L1280,1400 L1240,1520 L1147,1707"/>
<path d="M1165,1375 L1120,1520"/>
<!-- left slats -->
<path d="M165,262 Q330,400 490,580 Q530,590 580,572"/>
<path d="M145,332 L425,618 L475,590 M120,395 L390,668 L430,635 M95,455 L390,740 L430,700"/>
<path d="M85,515 Q250,690 420,790 Q700,960 1000,1100 L1300,1250"/>
<path d="M75,580 Q250,760 450,880 Q750,1050 1000,1160 L1280,1300"/>
<path d="M65,640 Q250,830 480,960 Q760,1110 1000,1215 L1260,1345"/>
<path d="M65,700 Q150,790 300,890 Q600,1080 900,1220 L1225,1380"/>
<!-- right slats -->
<path d="M955,772 Q920,790 925,810 Q935,830 960,840 L1395,1020"/>
<path d="M985,872 L945,900 L1375,1080"/>
<path d="M980,938 L935,968 L960,985 L1350,1140 M960,985 L905,1020 L1320,1195"/>
<!-- plate -->
<path d="M110,1070 L120,840 Q125,820 150,830 L300,930 Q600,1120 1040,1330 Q1075,1350 1078,1380 L1064,1586 L110,1070"/>
<!-- lower bars -->
<path d="M97,1078 L1119,1621 M119,1143 L1112,1664 M133,1193 L1097,1700 M147,1236 L1083,1735 M169,1278 L1069,1764"/>
<path d="M15,150 L55,105 M120,180 L150,160 L170,200"/>
</g>
<!-- bottom contour (src) -->
<path d="M354.4,3122 Q380,3145 413.6,3161.5 L475.8,3192.6 L565.7,3237.5 Q620,3258 669.4,3272 L773,3296 L911.3,3320.5 L960,3328 L1197.4,3302 Q1209,3296 1211,3285 L1251,3130"/>
<path d="M475,3194 V3252"/>
<!-- right lower : tile O origin (700,2990) scale 1/2.6133 -->
<g transform="translate(700,2990) scale(0.38265)">
<path d="M265,150 Q220,200 212,250 Q215,275 250,285 C450,330 750,340 1060,280 L1090,282 Q1100,290 1095,300"/>
<path d="M190,180 L130,265 Q115,290 125,305 Q135,325 200,335 C450,380 750,385 1000,330 L1070,310"/>
<path d="M1095,300 C1070,400 1040,520 1010,620 Q985,700 950,750 Q920,790 860,810"/>
<path d="M70,100 L120,85 L190,90 L185,110 L255,108 L262,150 L240,165 L50,150 M45,135 L240,160"/>
<path d="M190,180 L132,264 L-8,534 Q-45,600 -58,624 Q-70,650 -68,674 Q-65,700 -53,719 L-8,754"/>
<path d="M430,490 Q450,430 490,395 Q510,380 540,380 L670,378 Q695,385 685,410 Q665,470 625,500 Q600,510 570,510 L450,510 Q428,505 430,490 Z"/>
<path d="M0,510 Q20,485 60,483 C300,520 500,550 700,535 L995,505"/>
<path d="M-20,540 L0,565 L480,640 L720,640 L990,595"/>
<path d="M780,615 Q785,560 810,545 L995,510"/>
<path d="M100,605 L480,650 L720,645 M0,630 L100,615 M0,660 L60,660 L470,740 M0,690 L100,670 M0,710 L480,785 M0,755 L500,820 L720,810 Q850,800 920,760"/>
<path d="M740,675 L960,635 Q970,640 960,680 Q945,730 915,745 M730,720 L940,690 M720,770 L920,740 M935,640 L930,670 L950,690 M905,715 L925,740"/>
<ellipse cx="598" cy="750" rx="125" ry="65" transform="rotate(-3 598 750)"/>
<ellipse cx="598" cy="752" rx="90" ry="47" transform="rotate(-3 598 752)"/>
<path d="M515,690 L535,680 M720,670 L750,685 L740,700 M720,720 L780,715 L775,745 L720,775"/>
<path d="M500,848 L620,850 L900,810"/>
<path d="M1035,480 L1440,360 M1040,455 L1385,365 L1440,362 M945,765 L1345,660"/>
</g>
<!-- sensors 19/20 : tile M origin (420,2500) scale 1/3.92 -->
<defs>
<g id="s20">
<g transform="translate(420,2500) scale(0.2551)">
<path class="w" d="M420,548 L585,447 L600,450 L700,505 Q710,510 708,520 L708,600 L665,620 L610,588 L465,660 Q420,650 400,600 Q395,565 420,548 Z"/>
<ellipse cx="437" cy="604" rx="34" ry="57" transform="rotate(-22 437 604)"/>
<path d="M530,482 Q570,500 588,578 M558,465 Q600,490 612,572 M585,447 Q640,475 622,590"/>
<path d="M665,520 Q655,530 655,545 L655,610 L665,620 M665,520 L700,505"/>
<path d="M520,490 L560,468 M575,585 L560,610"/>
<circle class="dot" cx="493" cy="572" r="11"/>
</g>
</g>
<g id="s19r">
<g transform="translate(420,2500) scale(0.2551)">
<path class="w" d="M230,630 L300,595 L305,610 L340,600 Q380,640 385,700 L415,690 L410,715 L300,770 Z"/>
<path d="M320,715 L385,690 M325,730 L395,705 M262,625 Q290,640 300,610"/>
<ellipse class="w" cx="205" cy="725" rx="80" ry="113" transform="rotate(-15 205 725)"/>
<ellipse cx="195" cy="732" rx="52" ry="78" transform="rotate(-15 195 732)"/>
<ellipse cx="188" cy="738" rx="33" ry="52" transform="rotate(-15 188 738)"/>
<path d="M165,665 L210,660 M205,800 L232,790 L228,760"/>
</g>
</g>
<g id="s19s">
<g transform="translate(420,2500) scale(0.2551)">
<path class="w" d="M745,1225 L840,1175 L845,1195 L865,1180 Q915,1230 920,1280 L950,1272 L945,1300 L830,1350 Z"/>
<path d="M855,1300 L920,1278 M860,1312 L930,1290"/>
<path class="w" d="M660,1185 L685,1180 L815,1265 L810,1445 L790,1440 L665,1350 Z"/>
<path d="M700,1225 L700,1300 M700,1225 L790,1280"/>
<ellipse cx="715" cy="1320" rx="45" ry="70" transform="rotate(-15 715 1320)"/>
<ellipse cx="710" cy="1324" rx="30" ry="50" transform="rotate(-15 710 1324)"/>
<path d="M810,1350 L850,1375 L845,1405 L815,1390 M655,1270 L665,1268"/>
</g>
</g>
</defs>
<use href="#s20"/>
<use href="#s20" transform="translate(138.6,150)"/>
<use href="#s20" transform="translate(400,287.5)"/>
<use href="#s20" transform="translate(625,356)"/>
<use href="#s19r"/>
<use href="#s19r" transform="translate(625.3,367.7)"/>
<use href="#s19s"/>
<use href="#s19s" transform="translate(267.2,157.7)"/>
<!-- leaders -->
<path d="M478.7,2608 V2654 M609.3,2756 V2802 M876.5,2912 V2960 M1104,2976 V3022"/>
<path d="M559,2564 V2611 M697.6,2716 V2761 M959,2852 V2899 M1184,2925 V2967"/>
<!-- harness 21 -->
<g style="stroke-linecap:butt">
<path class="b1" style="stroke-width:7.8" d="M726,2600 Q745,2609.5 764,2601.7 L787,2587.7 Q795,2584.3 802.4,2586.3 Q808,2588 814,2591 L952,2673.3"/>
<path class="b1" style="stroke-width:7.8" d="M842.6,2705.3 Q861.7,2721 880.9,2709.7 L928.7,2678.6 Q938,2673.5 952,2676.5"/>
<path class="b1" style="stroke-width:7.8" d="M1107.5,2766 L1092.5,2766.8 Q1075,2771 1060,2783.5 L1035,2798.5 Q1027.5,2806 1030,2817.5 L1040,2827.5"/>
<path class="b1" style="stroke-width:7.8" d="M1257.5,2853 L1240,2853.5 Q1225,2858.5 1221.5,2870 Q1222.5,2880 1235,2887.5 L1252.5,2896"/>
<path class="t1" style="stroke-width:12.2" d="M946.7,2672.8 L1285,2867.7 Q1305,2878.5 1320,2870 Q1332,2860 1332.3,2842 L1332.5,2735 Q1335,2705 1354,2690"/>
<path class="t2" style="stroke-width:6.2" d="M946.7,2672.8 L1285,2867.7 Q1305,2878.5 1320,2870 Q1332,2860 1332.3,2842 L1332.5,2735 Q1335,2705 1354,2690"/>
<path class="b2" style="stroke-width:1.8" d="M726,2600 Q745,2609.5 764,2601.7 L787,2587.7 Q795,2584.3 802.4,2586.3 Q808,2588 814,2591 L952,2673.3"/>
<path class="b2" style="stroke-width:1.8" d="M842.6,2705.3 Q861.7,2721 880.9,2709.7 L928.7,2678.6 Q938,2673.5 952,2676.5"/>
<path class="b2" style="stroke-width:1.8" d="M1107.5,2766 L1092.5,2766.8 Q1075,2771 1060,2783.5 L1035,2798.5 Q1027.5,2806 1030,2817.5 L1040,2827.5"/>
<path class="b2" style="stroke-width:1.8" d="M1257.5,2853 L1240,2853.5 Q1225,2858.5 1221.5,2870 Q1222.5,2880 1235,2887.5 L1252.5,2896"/>
</g>
<path class="w" d="M1337.5,2675 L1372.5,2654 L1407.5,2671 L1407.5,2694 L1372.5,2715 L1339,2696 Z"/>
<path d="M1337.5,2675 L1372.5,2694 L1407.5,2672.5 M1372.5,2694 V2715"/>
<path d="M1360,2667 L1372,2673 L1384,2666 M1378,2662 L1390,2668 M1382,2700 V2690 L1400,2680"/>
<defs>
<g id="plugA"><g transform="translate(420,2500) scale(0.2551)">
<path class="w" d="M1045,305 L1088,262 L1112,266 L1182,308 Q1192,330 1186,352 L1145,398 L1120,400 L1045,362 Z"/>
<path d="M1145,300 Q1168,340 1150,395 M1165,310 Q1185,345 1170,392 M1045,340 L1120,378 L1130,400"/>
<path d="M1130,405 L1135,425 L1175,430 L1205,415 L1215,375 L1192,350"/>
</g></g>
<g id="plugB"><g transform="translate(780,2560) scale(0.5)">
<path class="w" d="M528,515 Q540,505 560,510 L598,532 Q608,542 606,560 L602,588 Q590,598 575,592 L540,570 L528,545 Z"/>
<path d="M540,570 L545,540 Q560,530 580,540 L602,555 M575,592 L578,560 M520,518 L530,540"/>
</g></g>
</defs>
<use href="#plugA"/>
<use href="#plugA" transform="translate(118,108)"/>
<use href="#plugB"/>
<use href="#plugB" transform="translate(210,70)"/>
<path d="M1031.5,2661.5 V2707.5"/>
<!-- labels -->
</g>
<g class="n" transform="translate(-2,1)">
<text x="1957.5" y="531.0">12</text>
<text x="1430.0" y="894.0">13</text>
<text x="1629.0" y="945.0">13</text>
<text x="1841.0" y="1070.0">13</text>
<text x="2017.5" y="1190.0">13</text>
<text x="1350.4" y="940.4">14</text>
<text x="1547.4" y="972.9">14</text>
<text x="1759.9" y="1098.9">14</text>
<text x="1936.4" y="1217.4">14</text>
<text x="1354.5" y="1151.0">15</text>
<text x="552.5" y="747.5">5</text>
<text x="962.4" y="1170.3">4</text>
<text x="570.5" y="1473.0">4</text>
<text x="640.0" y="1408.0">1</text>
<text x="761.0" y="1508.0">2</text>
<text x="835.5" y="1462.0">3</text>
<text x="907.0" y="1421.6">2</text>
<text x="2038.7" y="2059.7">7</text>
<text x="2123.5" y="2222.4">8</text>
<text x="2232.6" y="2122.0">9</text>
<text x="1353.0" y="2488.7">8</text>
<text x="1495.5" y="2502.7">7</text>
<text x="1661.4" y="2401.6">9</text>
<text x="474.0" y="3301.0">18</text>
<text x="481.0" y="2598.0">19</text>
<text x="611.3" y="2746.0">19</text>
<text x="878.7" y="2902.5">19</text>
<text x="1105.0" y="2966.0">19</text>
<text x="566.7" y="2554.0">20</text>
<text x="698.7" y="2704.0">20</text>
<text x="952.5" y="2841.0">20</text>
<text x="1178.0" y="2912.5">20</text>
<text x="1028.5" y="2645.0">21</text>
</g>
<g class="d">
</g>
<!-- highlight boxes -->
<g fill="rgba(255,0,0,0.5)">
<rect x="1298" y="874" width="106" height="94.5"/>
<rect x="1495" y="906.5" width="106" height="94.5"/>
<rect x="1707.5" y="1032.5" width="106" height="94.5"/>
<rect x="1884" y="1151" width="106" height="94.5"/>
</g>
<!-- footer -->
<rect x="0" y="3520" width="3" height="3" fill="#000"/>
<rect x="0" y="3523" width="2491" height="249" fill="#666666"/>
<text class="f" y="3693.3" xml:space="preserve"><tspan x="549" textLength="186" lengthAdjust="spacingAndGlyphs">VAG</tspan><tspan> </tspan><tspan x="761">- </tspan><tspan x="814.4" textLength="521" lengthAdjust="spacing">7H0919275</tspan><tspan x="1334" textLength="57" lengthAdjust="spacingAndGlyphs">E</tspan><tspan x="1390">Z</tspan><tspan x="1450.5">9</tspan><tspan x="1500.5" textLength="61" lengthAdjust="spacingAndGlyphs">Y</tspan><tspan>    </tspan><tspan x="1683">N </tspan><tspan x="1776.6">- </tspan><tspan x="1827">1</tspan><tspan x="1886.8">4</tspan></text>
</svg>
</body></html>
